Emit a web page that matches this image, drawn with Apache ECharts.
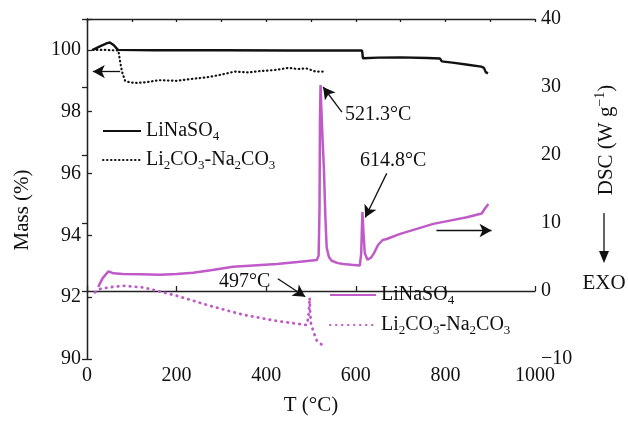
<!DOCTYPE html>
<html>
<head>
<meta charset="utf-8">
<script src="https://cdn.jsdelivr.net/npm/echarts@6/dist/echarts.min.js"></script>
<style>
  html, body { margin: 0; padding: 0; background: #fff; }
  #main { width: 628px; height: 421px; }
</style>
</head>
<body>
<div id="main"></div>
<script>
var chart = echarts.init(document.getElementById('main'));

var FONT = 'Liberation Serif';
var PINK = '#c05ac8';

// TG, LiNaSO4 (mass %)
var tgSulfT = [13, 30, 45, 51, 60, 69, 150, 300, 450, 600, 614, 616, 650, 700, 760, 788, 792, 820, 850, 880, 886, 890, 895];
var tgSulfM = [100, 100.12, 100.22, 100.24, 100.15, 100.0, 99.99, 99.99, 99.98, 99.98, 99.98, 99.73, 99.75, 99.76, 99.74, 99.72, 99.63, 99.58, 99.52, 99.46, 99.42, 99.28, 99.24];

// TG, Li2CO3-Na2CO3 (mass %)
var tgCarbT = [13, 40, 70, 73, 78, 85, 95, 110, 130, 160, 200, 240, 270, 300, 330, 360, 390, 420, 450, 470, 490, 510, 527];
var tgCarbM = [100, 100, 99.98, 99.7, 99.3, 99.0, 98.95, 98.93, 98.95, 99.02, 99.0, 99.07, 99.12, 99.2, 99.3, 99.27, 99.32, 99.35, 99.42, 99.38, 99.4, 99.3, 99.3];

// DSC, LiNaSO4 (W/g)
var dscSulfT = [25, 35, 48, 59, 80, 120, 163, 200, 237, 280, 326, 380, 424, 470, 513, 517, 519, 520, 521.3, 523, 526, 529, 532, 535, 540, 546, 560, 572, 590, 609, 612, 614, 614.8, 617, 620, 626, 634, 640, 650, 660, 669, 699, 736, 773, 810, 848, 881, 885, 888, 896];
var dscSulfD = [0.6, 1.9, 2.9, 2.6, 2.5, 2.45, 2.4, 2.5, 2.7, 3.1, 3.57, 3.8, 3.97, 4.25, 4.56, 5.2, 12, 25, 30.3, 27, 22, 17.7, 11, 6.4, 5.0, 4.45, 4.1, 3.97, 3.85, 3.75, 5.5, 10, 11.6, 8.7, 5.6, 4.6, 4.9, 5.5, 6.8, 7.5, 7.65, 8.4, 9.13, 9.87, 10.35, 10.84, 11.4, 11.6, 12.1, 12.8];

// DSC, Li2CO3-Na2CO3 (W/g)
var dscCarbT = [18, 29, 50, 81, 126, 200, 275, 349, 423, 490, 494, 496, 497, 498, 500, 505, 513, 528];
var dscCarbD = [-0.2, 0.28, 0.55, 0.77, 0.52, -0.7, -2.2, -3.5, -4.4, -5.0, -4.0, -2.2, -1.0, -3.0, -4.8, -5.9, -7.3, -8.1];

function pairs(xs, ys) {
  return xs.map(function (x, i) { return [x, ys[i]]; });
}

var legendText = {
  tgSulf: '{n|LiNaSO}{s|4}',
  tgCarb: '{n|Li}{s|2}{n|CO}{s|3}{n|-Na}{s|2}{n|CO}{s|3}',
  dscSulf: '{n|LiNaSO}{s|4}',
  dscCarb: '{n|Li}{s|2}{n|CO}{s|3}{n|-Na}{s|2}{n|CO}{s|3}'
};
var richText = {
  n: { fontFamily: FONT, fontSize: 20, color: '#111', lineHeight: 24 },
  s: { fontFamily: FONT, fontSize: 13, color: '#111', lineHeight: 12, verticalAlign: 'bottom' }
};

var axisLine = { show: true, lineStyle: { color: '#222', width: 1.3 } };
var tickStyle = { show: true, inside: true, length: 5, lineStyle: { color: '#222', width: 1.3 } };
var labelStyle = { fontFamily: FONT, fontSize: 20, color: '#111' };

function arrow(from, to) {
  return [{ coord: from }, { coord: to }];
}
var arrowLine = {
  silent: true,
  animation: false,
  symbol: ['none', 'arrow'],
  symbolSize: [10, 12],
  label: { show: false },
  lineStyle: { color: '#111', width: 1.3, type: 'solid' },
  emphasis: { disabled: true }
};

var option = {
  animation: false,
  backgroundColor: '#fff',
  grid: { left: 87, right: 93, top: 19, bottom: 62 },
  legend: [
    {
      left: 97, top: 116, orient: 'vertical', itemWidth: 38, itemHeight: 14, itemGap: 7,
      data: ['tgSulf', 'tgCarb'],
      itemStyle: { opacity: 0 },
      formatter: function (name) { return legendText[name]; },
      textStyle: { rich: richText }
    },
    {
      left: 324, top: 280, orient: 'vertical', itemWidth: 46, itemHeight: 14, itemGap: 8,
      data: ['dscSulf', 'dscCarb'],
      itemStyle: { opacity: 0 },
      formatter: function (name) { return legendText[name]; },
      textStyle: { rich: richText }
    }
  ],
  xAxis: [
    {
      type: 'value', min: 0, max: 1000, interval: 200, position: 'bottom',
      name: 'T (°C)', nameLocation: 'middle', nameGap: 36,
      nameTextStyle: { fontFamily: FONT, fontSize: 21, color: '#111' },
      axisLine: axisLine, axisTick: tickStyle,
      axisLabel: Object.assign({ margin: 7, formatter: function (v) { return String(v); } }, labelStyle),
      splitLine: { show: false }
    },
    {
      type: 'value', min: 0, max: 1000, interval: 100, position: 'top',
      axisLine: axisLine, axisTick: Object.assign({}, tickStyle, { length: 3 }),
      axisLabel: { show: false }, splitLine: { show: false }
    }
  ],
  yAxis: [
    {
      type: 'value', min: 90, max: 101, interval: 2, position: 'left',
      axisLine: axisLine, axisTick: tickStyle,
      axisLabel: Object.assign({
        margin: 6,
        formatter: function (v) { return v % 2 === 0 ? String(v) : ''; }
      }, labelStyle),
      splitLine: { show: false }
    },
    {
      type: 'value', min: -10, max: 40, interval: 10, position: 'right',
      axisLine: axisLine, axisTick: tickStyle,
      axisLabel: Object.assign({
        margin: 6,
        formatter: function (v) { return v < 0 ? '\u2212' + Math.abs(v) : String(v); }
      }, labelStyle),
      splitLine: { show: false }
    }
  ],
  graphic: [
    {
      type: 'text', x: 22, y: 210, rotation: Math.PI / 2,
      style: { text: 'Mass (%)', fontFamily: FONT, fontSize: 21, fill: '#111', textAlign: 'center', textVerticalAlign: 'middle' }
    },
    {
      type: 'text', x: 606, y: 140, rotation: Math.PI / 2,
      style: {
        text: '{n|DSC (W g}{p|\u22121}{n|)}',
        textAlign: 'center', textVerticalAlign: 'middle',
        rich: {
          n: { fontFamily: FONT, fontSize: 21, fill: '#111', lineHeight: 26 },
          p: { fontFamily: FONT, fontSize: 14, fill: '#111', lineHeight: 14, verticalAlign: 'top' }
        }
      }
    },
    {
      type: 'line', shape: { x1: 604, y1: 213, x2: 604, y2: 258 },
      style: { stroke: '#111', lineWidth: 1.3 }
    },
    {
      type: 'polygon', shape: { points: [[599, 251], [609, 251], [604, 263]] },
      style: { fill: '#111' }
    },
    {
      type: 'text', x: 604, y: 283,
      style: { text: 'EXO', fontFamily: FONT, fontSize: 21, fill: '#111', textAlign: 'center', textVerticalAlign: 'middle' }
    },
    {
      type: 'text', x: 345, y: 115,
      style: { text: '521.3°C', fontFamily: FONT, fontSize: 20, fill: '#111', textVerticalAlign: 'middle' }
    },
    {
      type: 'text', x: 360, y: 161,
      style: { text: '614.8°C', fontFamily: FONT, fontSize: 20, fill: '#111', textVerticalAlign: 'middle' }
    },
    {
      type: 'text', x: 219, y: 282,
      style: { text: '497°C', fontFamily: FONT, fontSize: 20, fill: '#111', textVerticalAlign: 'middle' }
    }
  ],
  series: [
    {
      name: 'tgSulf', type: 'line', xAxisIndex: 0, yAxisIndex: 0,
      data: pairs(tgSulfT, tgSulfM), symbol: 'none',
      lineStyle: { color: '#111', width: 2.4 }, itemStyle: { color: '#111' }, z: 3
    },
    {
      name: 'tgCarb', type: 'line', xAxisIndex: 0, yAxisIndex: 0,
      data: pairs(tgCarbT, tgCarbM), symbol: 'none',
      lineStyle: { color: '#111', width: 2.2, type: [0.5, 3.5], cap: 'round' }, itemStyle: { color: '#111' }, z: 3,
      markLine: Object.assign({}, arrowLine, { data: [arrow([74, 99.3], [13, 99.3])] })
    },
    {
      name: 'dscSulf', type: 'line', xAxisIndex: 0, yAxisIndex: 1,
      data: pairs(dscSulfT, dscSulfD), symbol: 'none',
      lineStyle: { color: PINK, width: 2.5 }, itemStyle: { color: PINK }, z: 2,
      markLine: Object.assign({}, arrowLine, {
        data: [
          arrow([780, 8.9], [903, 8.9]),
          arrow([569, 26.3], [527, 30.0]),
          arrow([669, 17.3], [621, 10.8])
        ]
      })
    },
    {
      name: 'dscCarb', type: 'line', xAxisIndex: 0, yAxisIndex: 1,
      data: pairs(dscCarbT, dscCarbD), symbol: 'none',
      lineStyle: { color: PINK, width: 2.8, type: [0.5, 5.5], cap: 'round' }, itemStyle: { color: PINK }, z: 2,
      markLine: Object.assign({}, arrowLine, { data: [arrow([426, 1.8], [487, -0.85])] })
    }
  ]
};

chart.setOption(option);
</script>
</body>
</html>
